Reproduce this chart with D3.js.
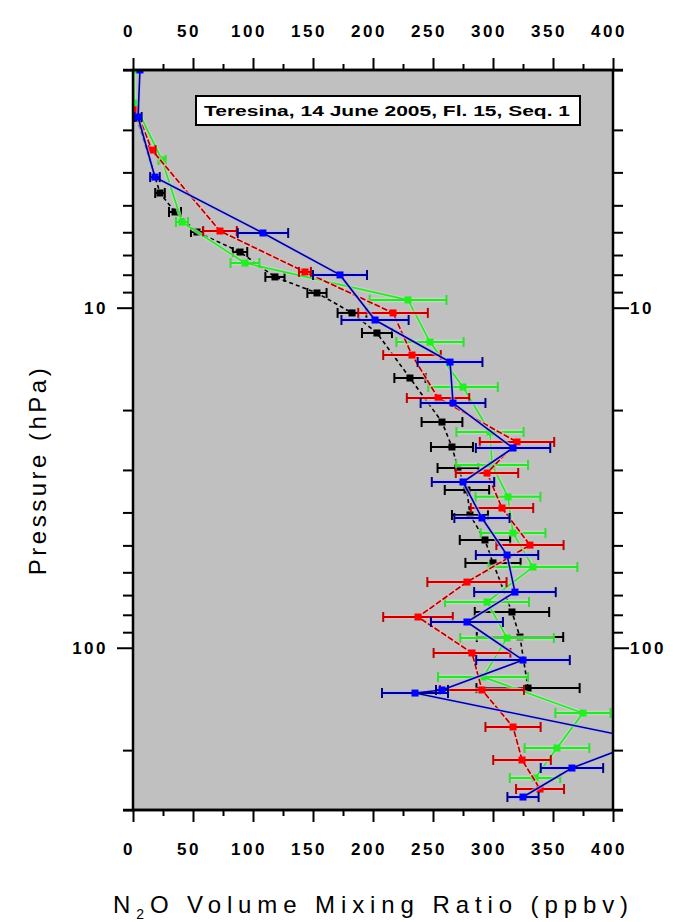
<!DOCTYPE html>
<html><head><meta charset="utf-8">
<script src="https://cdn.jsdelivr.net/npm/d3@7"></script>
<style>body{margin:0;background:#fff}svg{display:block}</style>
</head><body><div id="chart"></div>
<script>
// ---- data (pressure hPa, N2O ppbv, error ppbv) ----
const xTicks = [0, 50, 100, 150, 200, 250, 300, 350, 400];
const xMinor = [25, 75, 125, 175, 225, 275, 325, 375];
const yTicks = [2,3,4,5,6,7,8,9,10,20,30,40,50,60,70,80,90,100,200,300];
const yLabels = [10, 100];
const titleText = "Teresina, 14 June 2005, Fl. 15, Seq. 1";

const blackP = [2.77,4.60,5.23,5.99,6.86,8.12,9.05,10.36,11.87,16.10,21.69,25.68,29.61,34.37,40.7,48.2,56.3,78.5,93.0,131.4];
const blackV = [3.3,22.5,35,53.3,89.2,118.3,153.3,182.5,203.3,230.8,257.5,265.8,270.8,278.3,280.8,293.3,300,315.8,322.5,329.2];
const blackE = [0,4,5,5,6,8,8,12,12.5,13,17,17.5,17,18.5,15,21,23,31,36,43];

const redP = [2.62,3.44,5.95,7.85,10.36,13.78,18.43,24.83,30.63,38.82,49.9,64.1,81.2,103.6,133.1,171.0,213.8,260.3];
const redV = [2.5,15.8,72.5,143.3,216.7,232.5,254.2,320,295,307.5,330.8,278.3,237.5,282.5,290.8,316.7,324.2,339.2];
const redE = [0,3,14,5,29,24,26,31,26,26,28,33,29,32,35,23,24,20];

const greenP = [2.0,2.50,3.68,5.60,7.39,9.49,12.62,17.11,23.2,29.0,36.0,46.0,57.9,73.4,93.6,121.9,155.6,197.2,241.6];
const greenV = [0.5,1,24.2,40.8,93.3,229.2,247.5,275,297.5,299.2,312.5,316.7,333.3,295,311.7,291.7,375,353.3,335];
const greenE = [0,0,3,5,12,32,28,29,28,30,27,27,37,35,39,37.5,23,27,21];

const blueP = [2.0,2.75,4.13,6.03,8.01,10.87,14.45,19.07,25.86,32.55,41.54,53.38,68.6,84.0,108.7,133.1,135.9,186.8,225.8,274.8];
const blueV = [5.8,4.2,18.3,108.3,172.5,201.7,264.2,266.7,316.7,275,290.8,311.7,318.3,278.3,325,257.5,235,426.7,365.8,325];
const blueE = [0,3,4,21,22.5,28,27,27,31,26,23,26,34,30,39,5,27.5,20,26,13];

const seriesDefs = [
  {p: blackP, v: blackV, e: blackE, line: "#000000", mark: "#000000", bar: "#000000", halo: null, dash: "4,3"},
  {p: greenP, v: greenV, e: greenE, line: "#33dd33", mark: "#22ee22", bar: "#33dd33", halo: "#a8f0a8", dash: null},
  {p: redP, v: redV, e: redE, line: "#a00000", mark: "#ff0000", bar: "#c00000", halo: "#f5b0b0", dash: "6,2"},
  {p: blueP, v: blueV, e: blueE, line: "#000080", mark: "#0000ff", bar: "#00008b", halo: "#b0b0ff", dash: null}
];

// ---- layout ----
const W = 681, H = 922;
const L = 133, R = 613, T = 70, B = 810;
const x = d3.scaleLinear().domain([0, 400]).range([L, R]);
const y = d3.scaleLog().domain([2, 300]).range([T, B]);

const svg = d3.select("#chart").append("svg").attr("width", W).attr("height", H)
  .style("font-family", "'Liberation Sans', Arial, sans-serif");
svg.append("rect").attr("width", W).attr("height", H).attr("fill", "#fff");

svg.append("defs").append("clipPath").attr("id", "clip")
  .append("rect").attr("x", L).attr("y", T).attr("width", R - L).attr("height", B - T);

svg.append("rect").attr("x", L).attr("y", T).attr("width", R - L).attr("height", B - T)
  .attr("fill", "#c0c0c0");

// title box
svg.append("rect").attr("x", 196).attr("y", 96).attr("width", 384).attr("height", 29)
  .attr("fill", "#fff").attr("stroke", "#000").attr("stroke-width", 2);
svg.append("text").attr("x", 204).attr("y", 116).attr("font-size", 14).attr("font-weight", "bold")
  .attr("textLength", 366).attr("lengthAdjust", "spacingAndGlyphs").text(titleText);

// data
const plot = svg.append("g").attr("clip-path", "url(#clip)");
seriesDefs.forEach(s => {
  const pts = s.p.map((p, i) => ({p, v: s.v[i], e: s.e[i]}));
  const line = d3.line().x(d => x(d.v)).y(d => y(d.p));
  const g = plot.append("g");
  if (s.halo) {
    g.append("path").datum(pts).attr("d", line).attr("fill", "none")
      .attr("stroke", s.halo).attr("stroke-width", 4).attr("opacity", 0.7);
    g.selectAll(".hb").data(pts.filter(d => d.e > 0)).join("line")
      .attr("x1", d => x(d.v - d.e)).attr("x2", d => x(d.v + d.e))
      .attr("y1", d => y(d.p)).attr("y2", d => y(d.p))
      .attr("stroke", s.halo).attr("stroke-width", 5).attr("opacity", 0.7);
  }
  g.append("path").datum(pts).attr("d", line).attr("fill", "none")
    .attr("stroke", s.line).attr("stroke-width", 1.6)
    .attr("stroke-dasharray", s.dash);
  const eb = g.selectAll(".eb").data(pts.filter(d => d.e > 0)).join("g");
  eb.append("line").attr("x1", d => x(d.v - d.e)).attr("x2", d => x(d.v + d.e))
    .attr("y1", d => y(d.p)).attr("y2", d => y(d.p)).attr("stroke", s.bar).attr("stroke-width", 2);
  [-1, 1].forEach(sg => {
    eb.append("line").attr("x1", d => x(d.v + sg * d.e)).attr("x2", d => x(d.v + sg * d.e))
      .attr("y1", d => y(d.p) - 5).attr("y2", d => y(d.p) + 5)
      .attr("stroke", s.bar).attr("stroke-width", 2);
  });
  g.selectAll(".mk").data(pts).join("rect")
    .attr("x", d => x(d.v) - 3.5).attr("y", d => y(d.p) - 3.5)
    .attr("width", 7).attr("height", 7).attr("fill", s.mark);
});

// axes
function styleAxis(g) {
  g.select(".domain").remove();
  g.selectAll(".tick line").attr("stroke", "#000").attr("stroke-width", 2);
  g.selectAll(".tick text").remove();
}
svg.append("g").attr("transform", `translate(0,${T})`)
  .call(d3.axisTop(x).tickValues(xTicks).tickSize(12)).call(styleAxis);
svg.append("g").attr("transform", `translate(0,${T})`)
  .call(d3.axisTop(x).tickValues(xMinor).tickSize(6)).call(styleAxis);
svg.append("g").attr("transform", `translate(0,${B})`)
  .call(d3.axisBottom(x).tickValues(xTicks).tickSize(12)).call(styleAxis);
svg.append("g").attr("transform", `translate(0,${B})`)
  .call(d3.axisBottom(x).tickValues(xMinor).tickSize(6)).call(styleAxis);

const yMinor = yTicks.filter(t => !yLabels.includes(t));
svg.append("g").attr("transform", `translate(${L},0)`)
  .call(d3.axisLeft(y).tickValues(yMinor).tickSize(10)).call(styleAxis);
svg.append("g").attr("transform", `translate(${L},0)`)
  .call(d3.axisLeft(y).tickValues(yLabels).tickSize(16)).call(styleAxis);
svg.append("g").attr("transform", `translate(${R},0)`)
  .call(d3.axisRight(y).tickValues(yMinor).tickSize(10)).call(styleAxis);
svg.append("g").attr("transform", `translate(${R},0)`)
  .call(d3.axisRight(y).tickValues(yLabels).tickSize(16)).call(styleAxis);

// frame
svg.append("rect").attr("x", L).attr("y", T).attr("width", R - L).attr("height", B - T)
  .attr("fill", "none").attr("stroke", "#000").attr("stroke-width", 2.5);
[[T],[B]].forEach(([yy]) => svg.append("line").attr("x1", L - 10).attr("x2", R + 10)
  .attr("y1", yy).attr("y2", yy).attr("stroke", "#000").attr("stroke-width", 2.5));

// tick labels
const lab = {"font-size": 17, "font-weight": "bold", "letter-spacing": "2.5px"};
function applyLab(sel) { Object.entries(lab).forEach(([k, v]) => sel.attr(k, v)); return sel; }
applyLab(svg.append("g").selectAll("text").data(xTicks).join("text")
  .attr("x", d => x(d) - 4).attr("y", 37).attr("text-anchor", "middle").text(d => d));
applyLab(svg.append("g").selectAll("text").data(xTicks).join("text")
  .attr("x", d => x(d) - 4).attr("y", 855).attr("text-anchor", "middle").text(d => d));
applyLab(svg.append("g").selectAll("text").data(yLabels).join("text")
  .attr("x", 108).attr("y", d => y(d) + 6).attr("text-anchor", "end").text(d => d));
applyLab(svg.append("g").selectAll("text").data(yLabels).join("text")
  .attr("x", 630).attr("y", d => y(d) + 6).attr("text-anchor", "start").text(d => d));

// axis titles
svg.append("text").attr("transform", "translate(46,470) rotate(-90)")
  .attr("text-anchor", "middle").attr("font-size", 24).attr("letter-spacing", "3.5px")
  .text("Pressure (hPa)");
const xt = svg.append("text").attr("x", 113).attr("y", 913).attr("font-size", 24)
  .attr("letter-spacing", "5.9px");
xt.append("tspan").text("N");
xt.append("tspan").attr("font-size", 14).attr("dy", 6).text("2");
xt.append("tspan").attr("dy", -6).text("O Volume Mixing Ratio (ppbv)");
</script></body></html>
